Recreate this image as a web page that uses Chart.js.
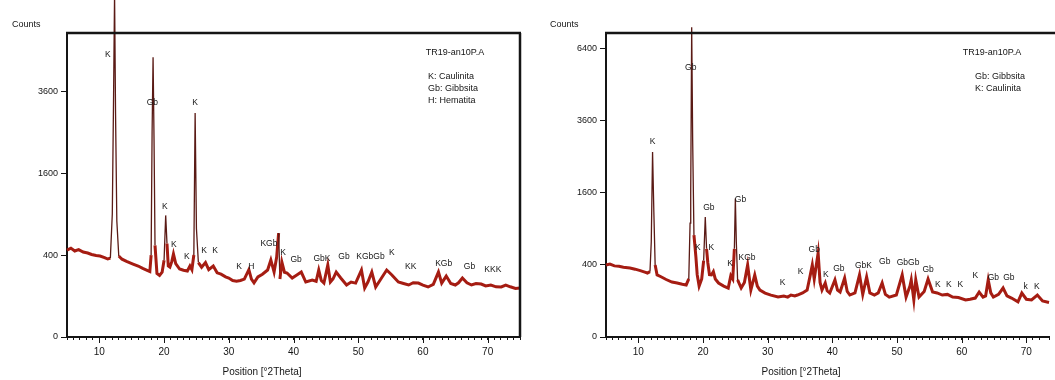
<!DOCTYPE html>
<html>
<head>
<meta charset="utf-8">
<script src="https://cdn.jsdelivr.net/npm/chart.js@4.4.0/dist/chart.umd.min.js"></script>
<style>
  body { margin: 0; background: #fff; }
  .panel { position: absolute; top: 0; }
  #left { left: 0; }
  #right { left: 530px; }
</style>
</head>
<body>
<div class="panel" id="left"><canvas id="leftChart" width="530" height="380"></canvas></div>
<div class="panel" id="right"><canvas id="rightChart" width="525" height="380"></canvas></div>
<script>
// Diffractogram TR19-an10P.A (K, Gb, H)
const leftTheta = [
  5.0, 5.6, 6.2, 6.8, 7.5, 8.2, 8.8, 9.5, 10.1, 10.8, 11.3, 11.7, 12.0, 12.2, 12.35, 12.5, 12.7, 13.0,
  13.5, 14.2, 15.2, 16.0, 16.7, 17.3, 17.8, 18.0, 18.15, 18.3, 18.45, 18.6, 18.9, 19.3, 19.7, 20.0,
  20.25, 20.45, 20.65, 20.9, 21.2, 21.45, 21.8, 22.4, 23.0, 23.6, 24.0, 24.3, 24.6, 24.8, 25.0, 25.3,
  25.8, 26.4, 26.9, 27.6, 28.2, 28.8, 29.5, 30.0, 30.6, 31.2, 31.8, 32.4, 33.1, 33.5, 33.9, 34.5,
  35.2, 36.0, 36.5, 37.0, 37.4, 37.7, 37.9, 38.2, 38.6, 39.0, 39.8, 40.4, 41.2, 41.9, 42.9, 43.5,
  43.9, 44.3, 44.7, 45.3, 45.7, 46.1, 46.6, 47.3, 48.2, 48.9, 49.6, 50.5, 51.0, 51.5, 52.1, 52.7,
  53.6, 54.4, 55.2, 56.2, 57.0, 57.8, 58.5, 59.3, 60.0, 60.8, 61.6, 62.4, 62.9, 63.6, 64.3, 65.0,
  65.5, 66.1, 66.8, 67.5, 68.2, 69.0, 69.7, 70.5, 71.3, 72.1, 72.8, 73.5, 74.3, 75.0
];
const leftCounts = [
  450, 470, 440, 455, 430, 420, 405, 395, 390, 375, 362, 370, 900, 3500, 7000, 3000, 800, 390,
  360, 340, 317, 300, 280, 267, 255, 400, 2500, 4660, 2300, 500, 240, 225, 250, 350,
  880, 520, 300, 290, 340, 410, 320, 275, 265, 259, 300, 270, 400, 2985, 700, 330,
  290, 330, 270, 300, 245, 235, 215, 207, 190, 185, 190, 200, 270, 200, 175, 215,
  235, 267, 353, 251, 380, 643, 200, 335, 250, 244, 207, 225, 251, 180, 193, 185,
  267, 190, 173, 308, 180, 200, 250, 207, 161, 180, 173, 267, 143, 180, 251, 149,
  207, 267, 229, 180, 170, 161, 175, 173, 160, 149, 165, 251, 173, 221, 170, 161,
  175, 207, 175, 161, 170, 167, 155, 161, 150, 149, 160, 150, 140, 143
];
const leftYTicks = [0, 400, 1600, 3600];
const leftTags = ["K", "Gb", "K", "K", "K", "K", "K", "K", "K", "H", "KGb", "K", "Gb", "GbK", "Gb", "KGbGb", "K", "KK", "KGb", "Gb", "KKK"];
const leftTagTheta = [11.3, 18.2, 24.8, 20.1, 21.5, 23.5, 26.2, 27.9, 31.6, 33.5, 36.2, 38.4, 40.4, 44.4, 47.8, 51.9, 55.2, 58.1, 63.2, 67.2, 70.8];
const leftTagCounts = [4731, 3257, 3257, 1005, 503, 381, 440, 440, 291, 291, 514, 420, 353, 362, 381, 381, 420, 291, 317, 291, 267];
const leftKey = ["K: Caulinita", "Gb: Gibbsita", "H: Hematita"];

// Diffractogram TR19-an10P.A (Gb, K)
const rightTheta = [
  5.0, 5.6, 6.3, 7.0, 7.7, 8.7, 9.5, 10.3, 11.0, 11.4, 11.8, 12.0, 12.2, 12.4, 12.6, 12.9, 13.5, 14.3,
  15.2, 16.0, 16.8, 17.4, 17.8, 18.0, 18.1, 18.25, 18.4, 18.6, 18.9, 19.1, 19.4, 19.8, 20.1, 20.35,
  20.55, 20.75, 21.0, 21.3, 21.6, 21.9, 22.4, 23.2, 23.9, 24.3, 24.6, 24.85, 25.0, 25.15, 25.35, 25.9,
  26.4, 26.9, 27.4, 28.0, 28.4, 28.8, 29.6, 30.5, 31.6, 32.5, 33.1, 33.6, 34.2, 34.6, 35.4, 36.1,
  36.6, 36.9, 37.2, 37.8, 38.1, 38.4, 38.9, 39.2, 39.6, 40.4, 40.8, 41.2, 41.9, 42.3, 42.7, 43.5,
  44.2, 44.7, 45.3, 45.8, 46.5, 47.1, 47.7, 48.2, 48.8, 49.9, 50.8, 51.4, 52.0, 52.2, 52.6, 52.9,
  53.4, 54.2, 54.8, 55.5, 56.2, 57.0, 57.8, 58.6, 59.5, 60.6, 61.3, 62.1, 62.7, 63.3, 63.7, 64.1,
  64.5, 64.9, 65.7, 66.4, 67.0, 67.7, 68.7, 69.3, 70.0, 70.8, 71.7, 72.5, 73.5
];
const rightCounts = [
  400, 410, 390, 385, 375, 367, 355, 340, 325, 316, 330, 700, 2640, 1200, 400, 297, 280, 255,
  233, 225, 215, 209, 260, 1000, 1600, 7400, 3000, 800, 494, 300, 200, 260, 450, 1110,
  600, 423, 300, 297, 330, 260, 225, 200, 185, 290, 260, 600, 1480, 700, 251, 185,
  230, 400, 170, 297, 200, 170, 149, 135, 123, 130, 123, 136, 130, 136, 150, 170,
  300, 400, 260, 544, 230, 170, 225, 165, 149, 251, 170, 156, 269, 160, 136, 150,
  297, 140, 278, 150, 136, 150, 225, 140, 123, 136, 297, 123, 200, 251, 106, 251,
  123, 160, 260, 156, 150, 136, 140, 123, 120, 106, 110, 117, 156, 123, 130, 251,
  150, 123, 140, 185, 130, 117, 95, 149, 110, 106, 136, 100, 92
];
const rightYTicks = [0, 400, 1600, 3600, 6400];
const rightTags = ["K", "Gb", "Gb", "K", "K", "Gb", "K", "KGb", "K", "K", "Gb", "K", "Gb", "GbK", "Gb", "GbGb", "Gb", "K", "K", "K", "K", "Gb", "Gb", "k", "K"];
const rightTagTheta = [12.2, 18.1, 20.9, 19.2, 21.3, 25.8, 24.2, 26.8, 32.3, 35.1, 37.2, 39.0, 41.0, 44.8, 48.1, 51.7, 54.8, 56.3, 58.0, 59.8, 62.1, 64.9, 67.3, 69.9, 71.6];
const rightTagCounts = [2934, 5583, 1284, 611, 611, 1448, 411, 481, 225, 326, 584, 297, 357, 389, 434, 423, 346, 209, 209, 209, 287, 269, 269, 193, 193];
const rightKey = ["Gb: Gibbsita", "K: Caulinita"];

const FONT = "Liberation Sans, Arial, sans-serif";
const INK = "#151515";

// square-root intensity axis, as used for the counts
class SqrtScale extends Chart.LinearScale {
  getPixelForValue(value) {
    const lo = Math.sqrt(Math.max(this.min, 0));
    const hi = Math.sqrt(this.max);
    return this.getPixelForDecimal((Math.sqrt(Math.max(value, 0)) - lo) / (hi - lo));
  }
  getValueForPixel(pixel) {
    const lo = Math.sqrt(Math.max(this.min, 0));
    const hi = Math.sqrt(this.max);
    const v = lo + this.getDecimalForPixel(pixel) * (hi - lo);
    return v * v;
  }
}
SqrtScale.id = "sqrt";
SqrtScale.defaults = { ...Chart.LinearScale.defaults };
Chart.register(SqrtScale);

// steep peak flanks are drawn thin and dark, the noisy background thick
const steep = (ctx) => Math.abs(ctx.p1.parsed.y - ctx.p0.parsed.y) > 350;

// frame, long ticks, axis titles, key box and peak tags
const decor = {
  id: "decor",
  afterDraw(chart, args, o) {
    const { ctx, chartArea: a, scales } = chart;
    ctx.save();
    ctx.strokeStyle = INK;

    ctx.lineWidth = 2.5;
    ctx.beginPath();
    ctx.moveTo(a.left - 1, a.top);
    ctx.lineTo(o.closed ? a.right + 1 : chart.width, a.top);
    if (o.closed) {
      ctx.moveTo(a.right, a.top);
      ctx.lineTo(a.right, a.bottom);
    }
    ctx.stroke();

    ctx.lineWidth = 1;
    ctx.beginPath();
    for (let v = 10; v <= scales.x.max; v += 10) {
      const px = Math.round(scales.x.getPixelForValue(v)) + 0.5;
      ctx.moveTo(px, a.bottom);
      ctx.lineTo(px, a.bottom + 6);
    }
    ctx.stroke();

    ctx.fillStyle = INK;
    ctx.font = "9px " + FONT;
    ctx.textBaseline = "middle";
    ctx.textAlign = "left";
    ctx.fillText("Counts", a.left - o.countsDx, 25);

    ctx.font = "10px " + FONT;
    ctx.textAlign = "center";
    ctx.fillText("Position [°2Theta]", a.left + 195, 372);

    ctx.font = "9px " + FONT;
    ctx.fillText("TR19-an10P.A", o.keyTitleX, 53);
    ctx.textAlign = "left";
    o.key.forEach((line, i) => ctx.fillText(line, o.keyX, 77 + i * 12));

    ctx.font = "8.5px " + FONT;
    ctx.textAlign = "center";
    o.tags.forEach((t, i) => {
      ctx.fillText(t, scales.x.getPixelForValue(o.tagTheta[i]), scales.y.getPixelForValue(o.tagCounts[i]));
    });
    ctx.restore();
  }
};

function makeChart(id, c) {
  return new Chart(document.getElementById(id), {
    type: "line",
    data: {
      datasets: [{
        data: c.theta.map((t, i) => ({ x: t, y: c.counts[i] })),
        borderColor: "#a51c12",
        borderWidth: 3,
        pointRadius: 0,
        tension: 0,
        clip: false,
        segment: {
          borderWidth: (ctx) => (steep(ctx) ? 1.3 : 3),
          borderColor: (ctx) => (steep(ctx) ? "#5a1a15" : "#a51c12")
        }
      }]
    },
    options: {
      responsive: false,
      animation: false,
      layout: { padding: { top: 33, right: c.padRight, left: 0, bottom: 0 } },
      plugins: {
        legend: { display: false },
        tooltip: { enabled: false },
        decor: {
          closed: c.closed, countsDx: c.countsDx, key: c.key, keyX: c.keyX, keyTitleX: c.keyTitleX,
          tags: c.tags, tagTheta: c.tagTheta, tagCounts: c.tagCounts
        }
      },
      scales: {
        x: {
          type: "linear",
          min: 5,
          max: c.xMax,
          afterFit: (s) => { s.height = 43; },
          ticks: {
            stepSize: 1,
            autoSkip: false,
            maxRotation: 0,
            padding: 6,
            color: INK,
            font: { family: FONT, size: 10 },
            callback: (v) => (v % 10 === 0 ? String(v) : "")
          },
          grid: { drawOnChartArea: false, tickLength: 3, tickColor: INK },
          border: { color: INK, width: 2 }
        },
        y: {
          type: "sqrt",
          min: 0,
          max: c.yMax,
          afterFit: (s) => { s.width = c.yWidth; },
          afterBuildTicks: (s) => { s.ticks = c.yTicks.map((v) => ({ value: v })); },
          ticks: {
            padding: 3,
            color: INK,
            font: { family: FONT, size: 9 },
            callback: (v) => String(v)
          },
          grid: { drawOnChartArea: false, tickLength: 6, tickColor: INK },
          border: { color: INK, width: 2 }
        }
      }
    },
    plugins: [decor]
  });
}

makeChart("leftChart", {
  theta: leftTheta, counts: leftCounts, yTicks: leftYTicks, yMax: 5500, xMax: 75,
  yWidth: 67, padRight: 10, closed: true, countsDx: 55,
  key: leftKey, keyX: 428, keyTitleX: 455,
  tags: leftTags, tagTheta: leftTagTheta, tagCounts: leftTagCounts
});

makeChart("rightChart", {
  theta: rightTheta, counts: rightCounts, yTicks: rightYTicks, yMax: 7130, xMax: 73.5,
  yWidth: 76, padRight: 0, closed: false, countsDx: 56,
  key: rightKey, keyX: 445, keyTitleX: 462,
  tags: rightTags, tagTheta: rightTagTheta, tagCounts: rightTagCounts
});
</script>
</body>
</html>
